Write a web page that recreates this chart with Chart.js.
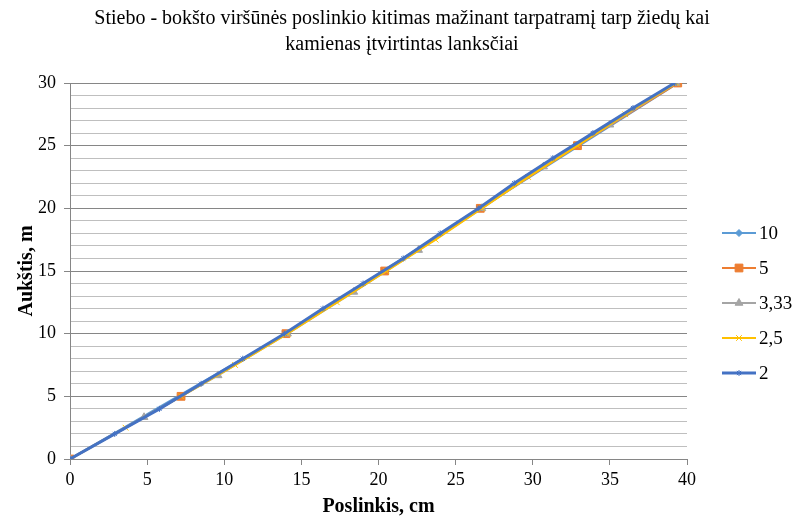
<!DOCTYPE html>
<html>
<head>
<meta charset="utf-8">
<script src="https://cdn.jsdelivr.net/npm/chart.js@4"></script>
<style>
  body { margin: 0; background: #fff; }
  #wrap { width: 796px; height: 519px; }
</style>
</head>
<body>
<div id="wrap"><canvas id="c" width="796" height="519"></canvas></div>
<script>
// series names (span between rings)
const seriesNames = ["10", "5", "3,33", "2,5", "2"];

// heights, m
const h10 = [0, 10, 20, 30];
const h5 = [0, 5, 10, 15, 20, 25, 30];
const h333 = [0, 3.33, 6.67, 10, 13.33, 16.67, 20, 23.33, 26.67, 30];
const h25 = [0, 2.5, 5, 7.5, 10, 12.5, 15, 17.5, 20, 22.5, 25, 27.5, 30];
const h2 = [0, 2, 4, 6, 8, 10, 12, 14, 16, 18, 20, 22, 24, 26, 28, 30];

// displacement, cm
const x10 = [0, 14.0, 26.6, 39.4];
const x5 = [0, 7.2, 14.0, 20.4, 26.6, 32.9, 39.4];
const x333 = [0, 4.8, 9.6, 14.1, 18.4, 22.6, 26.7, 30.7, 35.0, 39.3];
const x25 = [0, 3.6, 7.2, 10.7, 14.1, 17.3, 20.5, 23.7, 26.7, 29.7, 32.9, 36.0, 39.3];
const x2 = [0, 2.9, 5.8, 8.5, 11.2, 13.9, 16.4, 19.0, 21.6, 24.0, 26.5, 28.8, 31.3, 33.9, 36.5, 39.2];

const titleLines = ["Stiebo - bokšto viršūnės poslinkio kitimas mažinant tarpatramį tarp žiedų kai", "kamienas įtvirtintas lanksčiai"];
const xTitle = "Poslinkis, cm";
const yTitle = "Aukštis, m";

const colors = ["#5B9BD5", "#ED7D31", "#A5A5A5", "#FFC000", "#4472C4"];
const styles = ["rectRot", "rect", "triangle", "crossRot", "star"];
const radii = [3.5, 5.5, 4.5, 4, 3];
const widths = [2.2, 2.2, 2.2, 2.2, 3];

function pts(xs, hs) {
  return xs.map((v, i) => ({ x: v, y: hs[i] }));
}
const allData = [pts(x10, h10), pts(x5, h5), pts(x333, h333), pts(x25, h25), pts(x2, h2)];

const datasets = allData.map((d, i) => ({
  label: seriesNames[i],
  data: d,
  showLine: true,
  borderColor: colors[i],
  backgroundColor: colors[i],
  borderWidth: widths[i],
  pointStyle: styles[i],
  pointRadius: radii[i],
  pointBorderColor: colors[i],
  pointBackgroundColor: colors[i],
  pointBorderWidth: 1,
  order: 4 - i
}));

const serif = "'Liberation Serif', 'Times New Roman', serif";

// title and legend drawn by hand
const extrasPlugin = {
  id: "extras",
  afterDraw(chart) {
    const ctx = chart.ctx;
    ctx.save();
    // title
    ctx.fillStyle = "#000";
    ctx.font = "20px " + serif;
    ctx.textAlign = "center";
    ctx.textBaseline = "middle";
    ctx.fillText(titleLines[0], 402, 19);
    ctx.fillText(titleLines[1], 402, 45);
    // legend: line with marker
    seriesNames.forEach((name, i) => {
      const y = 233 + i * 35;
      ctx.strokeStyle = colors[i];
      ctx.fillStyle = colors[i];
      ctx.lineWidth = widths[i];
      ctx.beginPath();
      ctx.moveTo(722, y);
      ctx.lineTo(756, y);
      ctx.stroke();
      ctx.lineWidth = 1;
      Chart.helpers.drawPoint(ctx, {
        pointStyle: styles[i], radius: radii[i], borderWidth: 1
      }, 739, y);
      ctx.fillStyle = "#000";
      ctx.font = "19px " + serif;
      ctx.textBaseline = "middle";
      ctx.textAlign = "left";
      ctx.fillText(name, 759, y + 1);
    });
    ctx.restore();
  }
};

new Chart(document.getElementById("c"), {
  type: "scatter",
  data: { datasets },
  plugins: [extrasPlugin],
  options: {
    responsive: false,
    animation: false,
    layout: { padding: { top: 83, right: 109, left: 0, bottom: 0 } },
    plugins: {
      legend: { display: false },
      tooltip: { enabled: false },
      title: { display: false }
    },
    scales: {
      x: {
        type: "linear",
        min: 0, max: 40,
        afterFit(s) { s.height = 60; },
        ticks: { stepSize: 5, color: "#000", font: { family: serif, size: 18 }, padding: 4 },
        grid: { drawOnChartArea: false, color: "#868686", tickLength: 6, tickColor: "#868686" },
        border: { color: "#868686", width: 1 },
        title: { display: true, text: xTitle, color: "#000", font: { family: serif, size: 20, weight: "bold" }, padding: { top: 0, bottom: 0 } }
      },
      y: {
        min: 0, max: 30,
        afterFit(s) { s.width = 70; },
        ticks: {
          stepSize: 1,
          autoSkip: false,
          color: "#000",
          font: { family: serif, size: 18 },
          padding: 8,
          callback: (v) => (v % 5 === 0 ? String(v) : "")
        },
        grid: {
          color: (c) => (c.tick.value % 5 === 0 ? "#868686" : "#BFBFBF"),
          tickColor: (c) => (c.tick.value % 5 === 0 ? "#868686" : "rgba(0,0,0,0)"),
          tickLength: 6,
          lineWidth: 1
        },
        border: { color: "#868686", width: 1 },
        title: { display: true, text: yTitle, color: "#000", font: { family: serif, size: 20, weight: "bold" }, padding: { top: 15, bottom: 0 } }
      }
    }
  }
});
</script>
</body>
</html>
